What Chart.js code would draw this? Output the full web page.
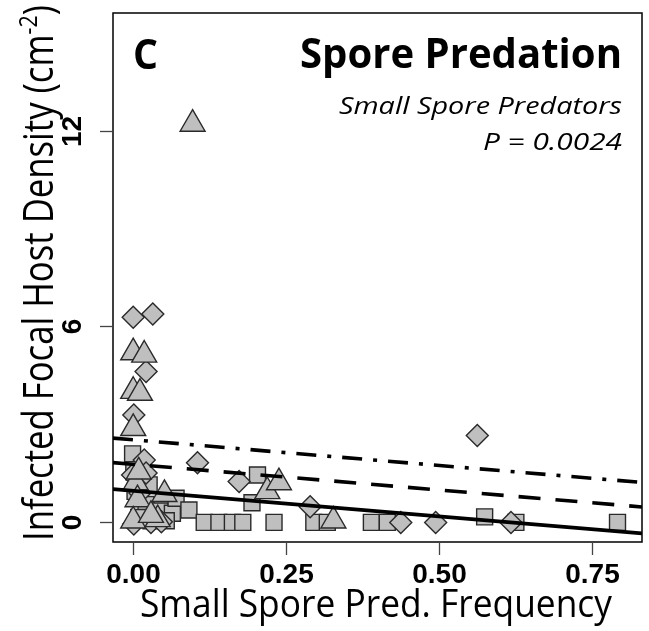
<!DOCTYPE html>
<html>
<head>
<meta charset="utf-8">
<script src="https://cdn.jsdelivr.net/npm/chart.js@4.4.1/dist/chart.umd.min.js"></script>
<style>
  html, body { margin: 0; padding: 0; background: #fff; }
</style>
</head>
<body>
<canvas id="chart" width="649" height="631"></canvas>
<script>
/* Spore predation panel C — scatter + parallel fits */
const squareX = [0.000, 0.002, 0.004, 0.027, 0.022, 0.030, 0.045, 0.065, 0.071, 0.092, 0.117, 0.141, 0.163, 0.180, 0.195, 0.204, 0.231, 0.296, 0.318, 0.390, 0.416, 0.575, 0.626, 0.792, 0.055, 0.010];
const squareY = [2.10, 1.55, 0.95, 1.15, 0.55, 0.05, 0.35, 0.28, 0.74, 0.38, 0.00, 0.00, 0.00, 0.00, 0.60, 1.45, 0.00, 0.00, 0.00, 0.00, 0.00, 0.17, 0.00, 0.00, 0.05, 0.15];

const diamondX = [0.001, 0.033, 0.022, 0.002, 0.019, 0.106, 0.000, 0.022, 0.174, 0.290, 0.438, 0.495, 0.563, 0.618, 0.002, 0.030, 0.047, 0.012];
const diamondY = [6.28, 6.38, 4.62, 3.29, 1.91, 1.83, 1.45, 1.51, 1.25, 0.48, 0.00, 0.00, 2.66, 0.00, -0.05, 0.00, 0.02, 0.90];

const triangleX = [0.098, 0.001, 0.019, 0.001, 0.012, 0.001, 0.005, 0.052, 0.008, 0.220, 0.239, 0.328, 0.001, 0.041, 0.030, 0.010];
const triangleY = [12.20, 5.20, 5.13, 4.02, 3.96, 2.88, 1.22, 0.86, 0.70, 0.95, 1.22, 0.05, 0.05, 0.09, 0.22, 1.55];

// fitted lines share one slope
const FIT_SLOPE = -1.57;
const FIT_INTERCEPTS = [0.97, 1.78, 2.53];
const FIT_DASHES = [[], [22, 15], [20, 11, 4, 11]];

const X_RANGE = [-0.032, 0.832];
const Y_RANGE = [-0.6, 15.6];
const X_TICKS = [0, 0.25, 0.5, 0.75];
const X_TICK_LABELS = ["0.00", "0.25", "0.50", "0.75"];
const Y_TICKS = [0, 6, 12];
const Y_TICK_LABELS = ["0", "6", "12"];

const FILL = "#bfbfbf";
const EDGE = "#2a2a2a";
const SANS = "'Open Sans', 'DejaVu Sans', sans-serif";
const TICK_FONT = "bold 28px 'Liberation Sans', Arial, sans-serif";

const zip = (xs, ys) => xs.map((x, i) => ({ x, y: ys[i] }));

function fitText(ctx, str, x, y, font, width, align) {
  ctx.font = font;
  const k = width / ctx.measureText(str).width;
  ctx.save();
  ctx.translate(x, y);
  ctx.scale(k, 1);
  ctx.textAlign = align;
  ctx.textBaseline = "alphabetic";
  ctx.fillText(str, 0, 0);
  ctx.restore();
}

const frame = {
  id: "frame",
  afterDatasetsDraw(chart) {
    const { ctx, chartArea: a, scales: { x, y } } = chart;
    ctx.save();
    ctx.strokeStyle = "#000";
    ctx.lineWidth = 1.5;
    ctx.strokeRect(a.left, a.top, a.right - a.left, a.bottom - a.top);

    // tick marks + labels
    ctx.strokeStyle = "#444";
    ctx.lineWidth = 1.3;
    ctx.fillStyle = "#000";
    ctx.font = TICK_FONT;
    X_TICKS.forEach((v, i) => {
      const px = Math.round(x.getPixelForValue(v)) + 0.5;
      ctx.beginPath(); ctx.moveTo(px, a.bottom); ctx.lineTo(px, a.bottom + 13); ctx.stroke();
      ctx.textAlign = "center"; ctx.textBaseline = "middle";
      ctx.fillText(X_TICK_LABELS[i], px, a.bottom + 33);
    });
    Y_TICKS.forEach((v, i) => {
      const py = Math.round(y.getPixelForValue(v)) + 0.5;
      ctx.beginPath(); ctx.moveTo(a.left - 13, py); ctx.lineTo(a.left, py); ctx.stroke();
      ctx.save();
      ctx.translate(a.left - 40, py);
      ctx.rotate(-Math.PI / 2);
      ctx.textAlign = "center"; ctx.textBaseline = "middle";
      ctx.fillText(Y_TICK_LABELS[i], 0, 0);
      ctx.restore();
    });

    // panel annotations
    fitText(ctx, "C", 133, 69, `bold 42px ${SANS}`, 25, "left");
    fitText(ctx, "Spore Predation", 622, 68, `bold 42px ${SANS}`, 322, "right");
    fitText(ctx, "Small Spore Predators", 622, 114, `italic 24px ${SANS}`, 283, "right");
    fitText(ctx, "P = 0.0024", 622, 150, `italic 24px ${SANS}`, 139, "right");

    // x title
    fitText(ctx, "Small Spore Pred. Frequency", 376, 617, `39px ${SANS}`, 472, "center");

    // y title with superscript
    const main = `42px ${SANS}`, sup = `26px ${SANS}`;
    const p1 = "Infected Focal Host Density (cm", p2 = "-2", p3 = ")";
    ctx.font = main;
    const w1 = ctx.measureText(p1).width, w3 = ctx.measureText(p3).width;
    ctx.font = sup;
    const w2 = ctx.measureText(p2).width;
    const k = 536 / (w1 + w2 + w3);
    ctx.save();
    ctx.translate(53, 541);
    ctx.rotate(-Math.PI / 2);
    ctx.scale(k, 1);
    ctx.textAlign = "left"; ctx.textBaseline = "alphabetic";
    ctx.font = main; ctx.fillText(p1, 0, 0);
    ctx.font = sup; ctx.fillText(p2, w1, -16);
    ctx.font = main; ctx.fillText(p3, w1 + w2, 0);
    ctx.restore();
    ctx.restore();
  },
};

const fitSets = FIT_INTERCEPTS.map((b, i) => ({
  type: "line",
  data: X_RANGE.map((xv) => ({ x: xv, y: b + FIT_SLOPE * xv })),
  borderColor: "#000",
  borderWidth: 3.6,
  borderDash: FIT_DASHES[i],
  pointRadius: 0,
  fill: false,
  tension: 0,
}));

const pointSet = (data, style, radius) => ({
  type: "scatter",
  data,
  pointStyle: style,
  pointRadius: radius,
  pointHoverRadius: radius,
  backgroundColor: FILL,
  borderColor: EDGE,
  borderWidth: 1.4,
});

new Chart(document.getElementById("chart"), {
  type: "scatter",
  data: {
    datasets: [
      ...fitSets,
      pointSet(zip(triangleX, triangleY), "triangle", 14.4),
      pointSet(zip(diamondX, diamondY), "rectRot", 11),
      pointSet(zip(squareX, squareY), "rect", 11.3),
    ],
  },
  options: {
    responsive: false,
    animation: false,
    devicePixelRatio: 1,
    layout: { autoPadding: false, padding: { left: 113, right: 7, top: 13, bottom: 89 } },
    plugins: { legend: { display: false }, tooltip: { enabled: false } },
    scales: {
      x: { type: "linear", min: X_RANGE[0], max: X_RANGE[1], display: false },
      y: { type: "linear", min: Y_RANGE[0], max: Y_RANGE[1], display: false },
    },
  },
  plugins: [frame],
});
</script>
</body>
</html>
